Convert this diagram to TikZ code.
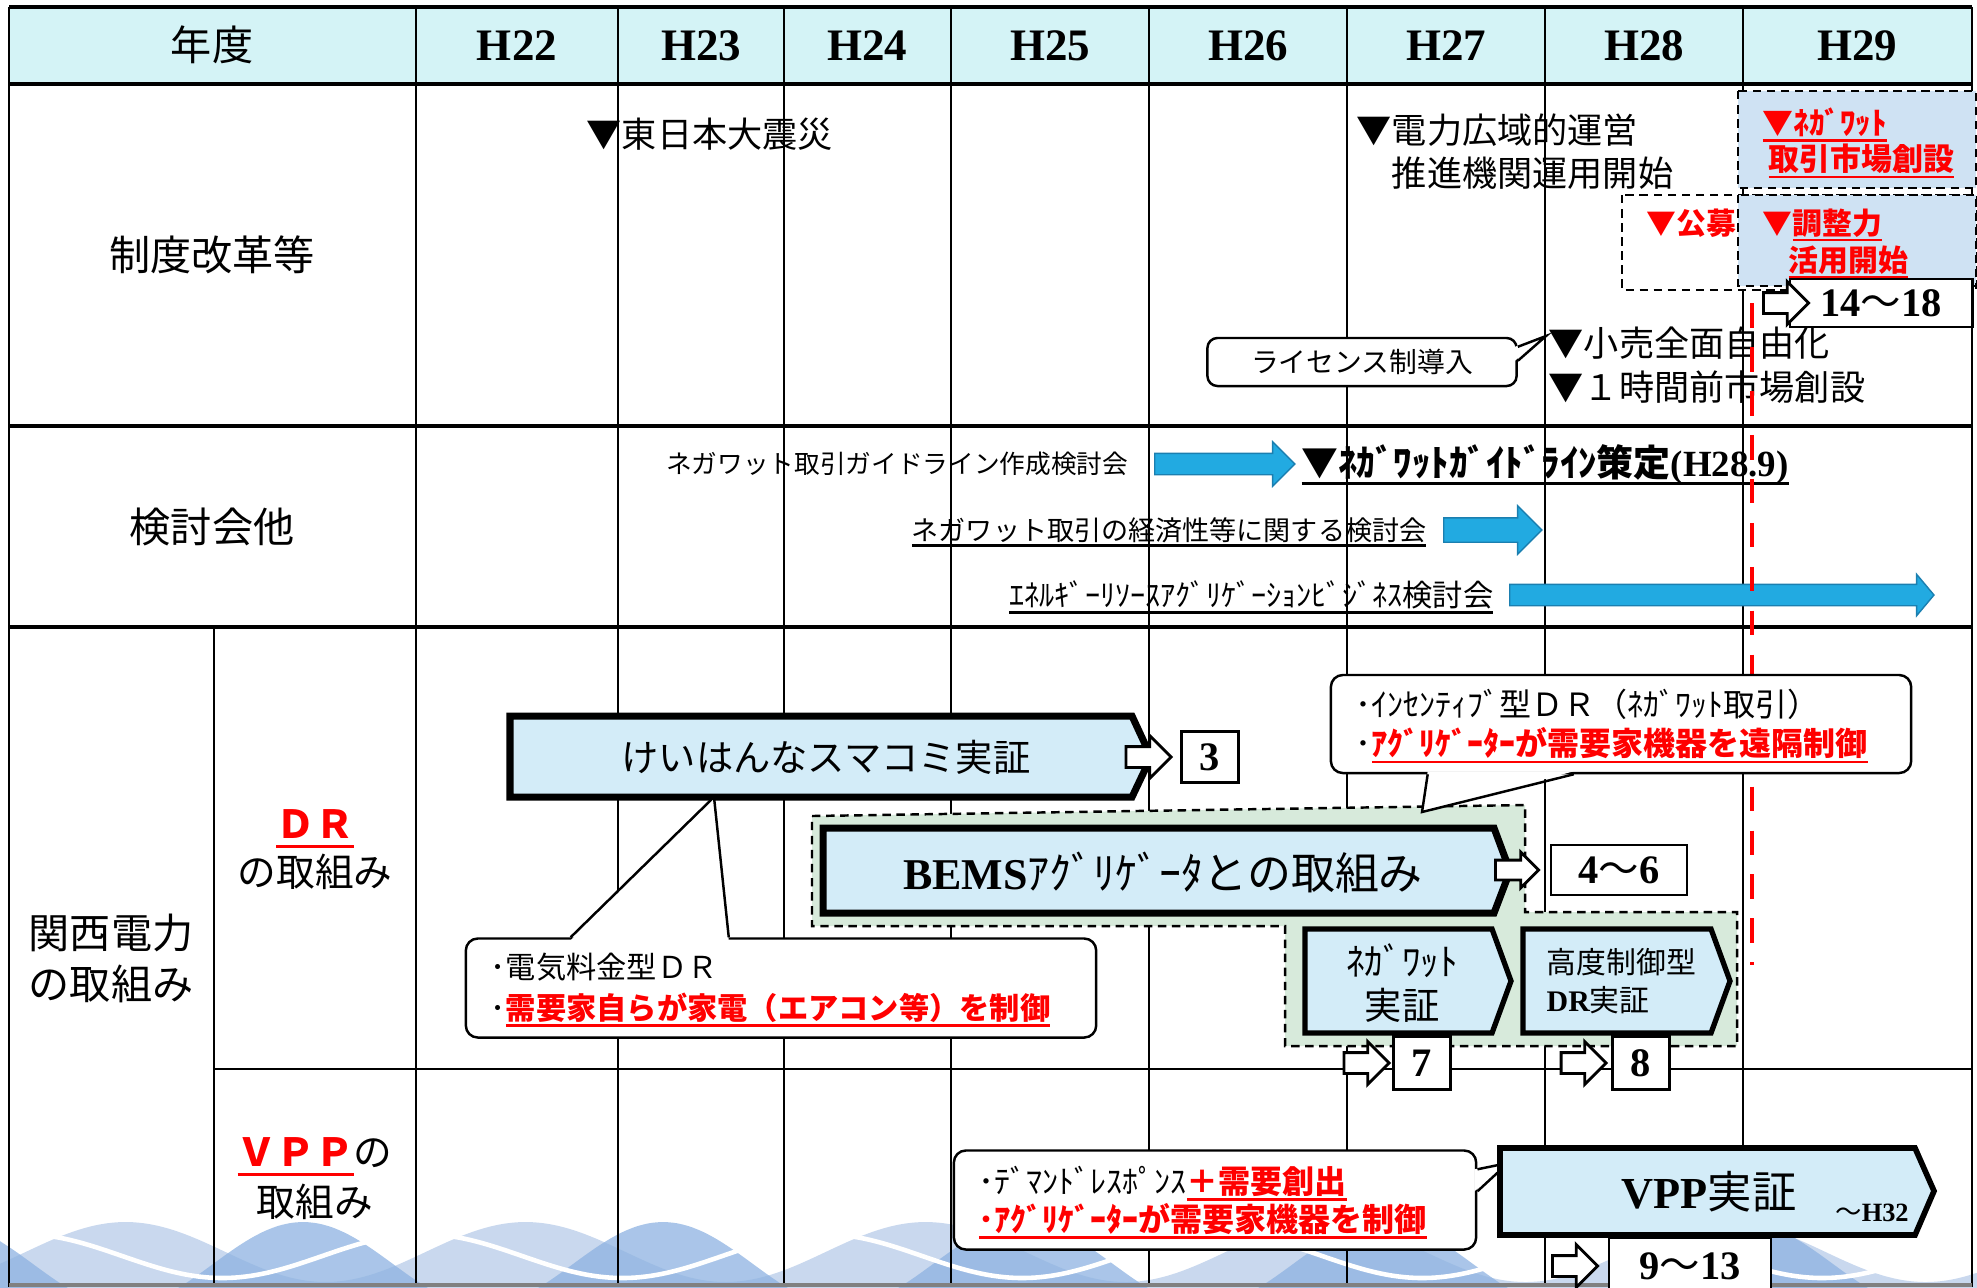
\documentclass[tikz,border=0pt]{standalone}
\usepackage{fontspec}
\setmainfont{Noto Sans CJK JP}
\newfontfamily\tms{Liberation Serif}
\usetikzlibrary{shapes.arrows}
\definecolor{hdrcyan}{HTML}{D4F3F6}
\definecolor{boxblue}{HTML}{D3ECF8}
\definecolor{paneblue}{HTML}{CFE2F3}
\definecolor{grpgreen}{HTML}{D7EADB}
\definecolor{arrblue}{HTML}{22AAE1}
\definecolor{arredge}{HTML}{1B7FB0}
\definecolor{wavelight}{HTML}{C9D8EE}
\definecolor{wavemid}{HTML}{8DB2E1}
\newcommand\fz[1]{\fontsize{#1}{#1}\selectfont}
\newcommand\sn[1]{{\tms\bfseries #1}}
\newcommand\kara{{\rmfamily\mdseries ～}}
\newcommand\ulbar[1]{\setbox0\hbox{#1}\rlap{\smash{\raisebox{-.24em}{\rule{\wd0}{.085em}}}}\box0}
\newcommand\redul[1]{\textcolor{red}{\bfseries\ulbar{#1}}}
\begin{document}
\begin{tikzpicture}[x=0.01cm,y=-0.01cm,
	lbl/.style={inner sep=0pt},
	ev/.style={inner sep=0pt,anchor=west},
	gridline/.style={line width=0.6pt},
	sepline/.style={line width=1.1pt},
	panel/.style={draw,line width=2pt,fill=boxblue},
	num/.style={draw,fill=white,line width=0.8pt,inner sep=0pt,font=\tms\bfseries\fz{11.5}},
	harrow/.style={single arrow,draw,fill=white,line width=0.8pt,inner xsep=0pt,inner ysep=0.09cm,single arrow head extend=0.11cm,minimum height=0.45cm,anchor=tip},
	barrow/.style={single arrow,draw=arredge,fill=arrblue,line width=0.4pt,inner xsep=0pt,inner ysep=0.1cm,single arrow head extend=0.115cm,anchor=tail},
	callout/.style={draw,fill=white,line width=0.7pt,rounded corners=0.12cm,inner ysep=0pt,inner xsep=0.25cm,align=left},
	dashbox/.style={draw,line width=0.7pt,dash pattern=on 2.4pt off 1.6pt}]
	\useasboundingbox (0,0) rectangle (1977,1287);
	\fill[hdrcyan] (9,7) rectangle (1972,84);
	% waves along the foot of the table
	\fill[wavelight] (0,1300) -- plot[domain=0:1977,samples=150,smooth] (\x,{1252-30*sin(0.9*\x-23)}) -- (1977,1300) -- cycle;
	\fill[wavemid,opacity=.75] (0,1300) -- plot[domain=0:1977,samples=150,smooth] (\x,{1264-42*sin(\x-213)}) -- (1977,1300) -- cycle;
	\draw[white,line width=1.3pt] plot[domain=0:1977,samples=150,smooth] (\x,{1256-22*sin(0.9*\x+70)});
	% table
	\draw[sepline] (9,7) -- (1972,7) (9,84) -- (1972,84) (9,426) -- (1972,426) (9,627) -- (1972,627);
	\draw[gridline] (214,1069) -- (1972,1069) (214,627) -- (214,1287);
	\foreach \x in {9,416,618,784,951,1149,1347,1545,1743,1972}
		\draw[gridline] (\x,7) -- (\x,1287);
	\draw[gray,line width=1pt] (9,1285) -- (1972,1285);
	\node[lbl,font=\fz{11.7}] (yr) at (212,45) {年度};
	\foreach \x/\n in {517/22,701/23,867/24,1050/25,1248/26,1446/27,1644/28,1857/29}
		\node[lbl,font=\tms\bfseries\fz{12.8}] (h\n) at (\x,46) {H\n};
	\node[lbl,font=\fz{11.7}] (rreform) at (212,255) {制度改革等};
	\node[lbl,font=\fz{11.7}] (rstudy) at (212,527) {検討会他};
	\node[lbl,align=center,font=\fontsize{11.7}{14.5}\selectfont] (rkepco) at (111,958) {関西電力\\の取組み};
	\node[lbl,align=center,font=\fontsize{11}{13.7}\selectfont] (rdr) at (315,850) {\redul{ＤＲ}\\の取組み};
	\node[lbl,align=center,font=\fontsize{11}{14.2}\selectfont] (rvpp) at (315,1179) {\redul{ＶＰＰ}の\\取組み};
	% reforms
	\node[ev,font=\fz{10}] (quake) at (586,134) {▼東日本大震災};
	\node[ev,align=left,font=\fontsize{10}{12.2}\selectfont] (occto) at (1356,152) {▼電力広域的運営\\　推進機関運用開始};
	\filldraw[dashbox,fill=paneblue] (1738,91) rectangle (1976,188);
	\node[ev,font=\bfseries\fz{8.8},text=red] (nwm1) at (1762,122) {\ulbar{▼ﾈｶﾞﾜｯﾄ}};
	\node[ev,font=\bfseries\fz{8.8},text=red] (nwm2) at (1768,159) {\ulbar{取引市場創設}};
	\draw[dashbox,fill=white] (1622,195) rectangle (1976,290);
	\filldraw[dashbox,fill=paneblue] (1738,195) rectangle (1976,286);
	\node[ev,font=\bfseries\fz{8.5},text=red] (koubo) at (1646,223) {▼公募};
	\node[ev,font=\bfseries\fz{8.5},text=red] (adj1) at (1762,223) {▼\ulbar{調整力}};
	\node[ev,font=\bfseries\fz{8.5},text=red] (adj2) at (1788,260) {\ulbar{活用開始}};
	\node[num,minimum width=1.82cm,minimum height=0.48cm] (n1418) at (1881,303) {14\kara18};
	\node[harrow] (a1418) at ([xshift=0.22cm]n1418.west) {};
	\node[callout,align=center,inner xsep=0pt,minimum width=3.09cm,minimum height=0.48cm,rounded corners=0.1cm,font=\fz{7.9}] (lic) at (1362,362) {ライセンス制導入};
	\coordinate (lictip) at (1546,336);
	\fill[white] ([xshift=-0.03cm,yshift=-0.1cm]lic.north east) -- (lictip) -- ([xshift=-0.03cm,yshift=-0.24cm]lic.north east) -- cycle;
	\draw[line width=0.7pt] ([yshift=-0.1cm]lic.north east) -- (lictip) -- ([yshift=-0.24cm]lic.north east);
	\node[ev,font=\fz{10}] (retail) at (1548,343) {▼小売全面自由化};
	\node[ev,font=\fz{10}] (hourahead) at (1548,387) {▼１時間前市場創設};
	% study groups
	\node[ev,anchor=east,font=\fz{7.3}] (s1) at (1129,464) {ネガワット取引ガイドライン作成検討会};
	\node[barrow,minimum height=1.4cm] (b1) at ([xshift=0.25cm]s1.east) {};
	\node[ev,font=\bfseries\fz{10.5}] (s1g) at ([xshift=0.05cm]b1.tip) {\ulbar{▼ﾈｶﾞﾜｯﾄｶﾞｲﾄﾞﾗｲﾝ策定\sn{(H28.9)}}};
	\node[ev,anchor=east,font=\fz{7.7}] (s2) at (1427,530) {\ulbar{ネガワット取引の経済性等に関する検討会}};
	\node[barrow,minimum height=0.98cm,inner ysep=0.115cm,single arrow head extend=0.12cm] (b2) at ([xshift=0.16cm]s2.east) {};
	\node[ev,anchor=east,font=\fz{8.6}] (s3) at (1494,595) {\ulbar{ｴﾈﾙｷﾞｰﾘｿｰｽｱｸﾞﾘｹﾞｰｼｮﾝﾋﾞｼﾞﾈｽ検討会}};
	\node[barrow,minimum height=4.24cm,single arrow head extend=0.1cm,single arrow tip angle=100] (b3) at ([xshift=0.15cm]s3.east) {};
	\coordinate (cut0) at (1752,303);
	\coordinate (cut1) at (1752,965);
	\draw[red,line width=1.1pt,dash pattern=on 7pt off 5.5pt] (cut0) -- (cut1);
	% demand response
	\draw[panel] (510,716) -- (1132,716) -- (1151,757) -- (1132,797) -- (510,797) -- cycle;
	\node[lbl,font=\fz{10.6}] (kh) at (826,757) {けいはんなスマコミ実証};
	\node[num,minimum width=0.57cm,minimum height=0.51cm] (n3) at (1210,757) {3};
	\node[harrow] (a3) at ([xshift=-0.07cm]n3.west) {};
	\node[callout,minimum width=6.3cm,minimum height=0.99cm,text width=5.8cm,font=\fontsize{8.6}{11.7}\selectfont] (khc) at (781,988) {･電気料金型ＤＲ\\･\redul{需要家自らが家電（エアコン等）を制御}};
	\coordinate (khtip) at (714,797);
	\fill[white] ([xshift=1.06cm,yshift=-0.03cm]khc.north west) -- (khtip) -- ([xshift=2.64cm,yshift=-0.03cm]khc.north west) -- cycle;
	\draw[line width=0.7pt] ([xshift=1.06cm]khc.north west) -- (khtip) -- ([xshift=2.64cm]khc.north west);
	\filldraw[dashbox,fill=grpgreen] (812,816) -- (1525,805) -- (1525,912) -- (1737,912) -- (1737,1046) -- (1285,1046) -- (1285,926) -- (812,926) -- cycle;
	\draw[panel] (823,828) -- (1494,828) -- (1510,871) -- (1494,913) -- (823,913) -- cycle;
	\node[lbl,font=\fz{12.5}] (bems) at (1163,873) {\sn{BEMS}ｱｸﾞﾘｹﾞｰﾀとの取組み};
	\node[num,minimum width=1.36cm,minimum height=0.5cm] (n46) at (1619,870) {4\kara6};
	\node[harrow,inner ysep=0.085cm,single arrow head extend=0.08cm,minimum height=0.43cm] (a46) at ([xshift=-0.09cm]n46.west) {};
	\draw[panel,line width=1.5pt] (1305,929) -- (1492,929) -- (1511,981) -- (1492,1033) -- (1305,1033) -- cycle;
	\node[lbl,align=center,font=\fontsize{10.6}{12.5}\selectfont] (nwdemo) at (1402,983) {ﾈｶﾞﾜｯﾄ\\実証};
	\draw[panel,line width=1.5pt] (1523,929) -- (1711,929) -- (1730,981) -- (1711,1033) -- (1523,1033) -- cycle;
	\node[ev,align=left,font=\fontsize{8.5}{10.8}\selectfont] (nkdemo) at (1546,981) {高度制御型\\\sn{DR}実証};
	\node[num,minimum width=0.57cm,minimum height=0.53cm] (n7) at (1422,1063) {7};
	\node[harrow] (a7) at ([xshift=-0.01cm]n7.west) {};
	\node[num,minimum width=0.57cm,minimum height=0.53cm] (n8) at (1641,1063) {8};
	\node[harrow] (a8) at ([xshift=-0.03cm]n8.west) {};
	\node[callout,minimum width=5.8cm,minimum height=0.98cm,text width=5.3cm,font=\fontsize{9.1}{11.1}\selectfont] (inc) at (1621,724) {･ｲﾝｾﾝﾃｨﾌﾞ型ＤＲ（ﾈｶﾞﾜｯﾄ取引）\\･\redul{ｱｸﾞﾘｹﾞｰﾀｰが需要家機器を遠隔制御}};
	\coordinate (inctip) at (1422,812);
	\fill[white] ([xshift=0.98cm,yshift=0.03cm]inc.south west) -- (inctip) -- ([xshift=2.44cm,yshift=0.03cm]inc.south west) -- cycle;
	\draw[line width=0.7pt] ([xshift=0.98cm]inc.south west) -- (inctip) -- ([xshift=2.44cm]inc.south west);
	% virtual power plant
	\node[callout,minimum width=5.22cm,minimum height=0.99cm,text width=4.72cm,font=\fontsize{9.1}{10.8}\selectfont] (vpc) at (1215,1200) {･ﾃﾞﾏﾝﾄﾞﾚｽﾎﾟﾝｽ\redul{＋需要創出}\\\redul{･ｱｸﾞﾘｹﾞｰﾀｰが需要家機器を制御}};
	\coordinate (vpctip) at (1508,1163);
	\fill[white] ([xshift=-0.03cm,yshift=-0.2cm]vpc.north east) -- (vpctip) -- ([xshift=-0.03cm,yshift=-0.42cm]vpc.north east) -- cycle;
	\draw[line width=0.7pt] ([yshift=-0.2cm]vpc.north east) -- (vpctip) -- ([yshift=-0.42cm]vpc.north east);
	\draw[panel,line width=1.6pt] (1500,1148) -- (1915,1148) -- (1934,1191) -- (1915,1235) -- (1500,1235) -- cycle;
	\node[lbl,font=\fz{12.6}] (vpp) at (1709,1192) {\sn{VPP}実証};
	\node[lbl,font=\fz{7.5}] (vppend) at (1872,1213) {～\sn{H32}};
	\node[num,minimum width=1.62cm,minimum height=0.57cm] (n913) at (1690,1266) {9\kara13};
	\node[harrow] (a913) at ([xshift=-0.08cm]n913.west) {};
\end{tikzpicture}
\end{document}
